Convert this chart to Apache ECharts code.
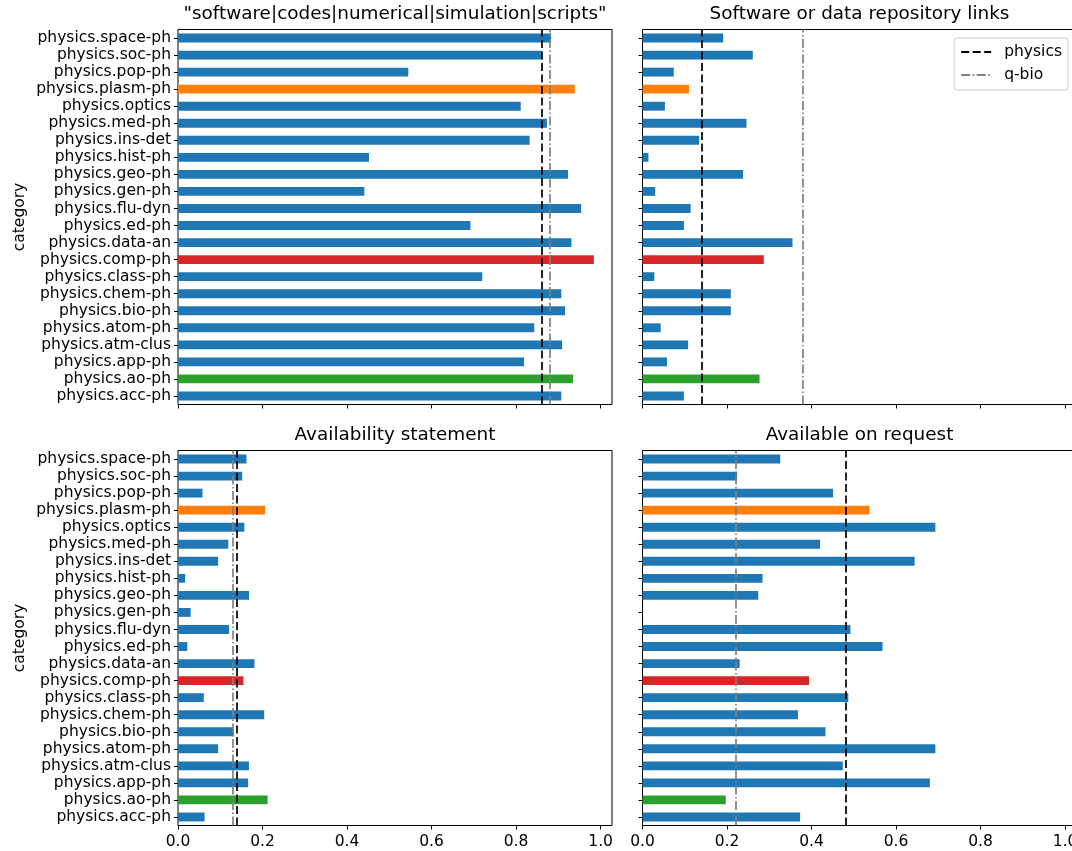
<!DOCTYPE html>
<html>
<head>
<meta charset="utf-8">
<script src="https://cdn.jsdelivr.net/npm/echarts@6/dist/echarts.min.js"></script>
<style>html,body{margin:0;padding:0;background:#fff}#c{width:1072px;height:851px}</style>
</head>
<body>
<div id="c"></div>
<script>
// categories bottom -> top
const categories = ["physics.acc-ph","physics.ao-ph","physics.app-ph","physics.atm-clus","physics.atom-ph","physics.bio-ph","physics.chem-ph","physics.class-ph","physics.comp-ph","physics.data-an","physics.ed-ph","physics.flu-dyn","physics.gen-ph","physics.geo-ph","physics.hist-ph","physics.ins-det","physics.med-ph","physics.optics","physics.plasm-ph","physics.pop-ph","physics.soc-ph","physics.space-ph"];
const panelTitles = ['"software|codes|numerical|simulation|scripts"', "Software or data repository links", "Availability statement", "Available on request"];
const softwareCodes = [0.907,0.935,0.819,0.909,0.843,0.916,0.907,0.720,0.984,0.931,0.692,0.954,0.441,0.923,0.452,0.832,0.873,0.811,0.939,0.545,0.862,0.883];
const repoLinks     = [0.098,0.277,0.058,0.108,0.043,0.209,0.209,0.028,0.287,0.355,0.098,0.114,0.030,0.238,0.014,0.134,0.246,0.053,0.110,0.074,0.261,0.191];
const availStatement= [0.063,0.212,0.166,0.168,0.095,0.132,0.204,0.061,0.155,0.181,0.022,0.121,0.030,0.168,0.017,0.095,0.119,0.157,0.206,0.058,0.152,0.162];
const onRequest     = [0.373,0.197,0.680,0.474,0.693,0.433,0.368,0.487,0.394,0.230,0.568,0.492,0.000,0.274,0.284,0.644,0.420,0.693,0.537,0.451,0.224,0.326];
const refPhysics = [0.862, 0.142, 0.137, 0.485];
const refQbio    = [0.879, 0.378, 0.133, 0.219];
const xTicks = [0, 0.2, 0.4, 0.6, 0.8, 1.0];
const xMax = 1.027;

const panelValues = [softwareCodes, repoLinks, availStatement, onRequest];
const highlight = {"physics.plasm-ph":"#ff7f0e","physics.comp-ph":"#d62728","physics.ao-ph":"#2ca02c"};
const baseColor = "#1f77b4";
const FONT = "DejaVu Sans";
const FS = 15.5;

const gridPos = [
  {left:178, top:29.5}, {left:642.5, top:29.5},
  {left:178, top:450.5}, {left:642.5, top:450.5}
];
const grids = gridPos.map(p => ({left:p.left, top:p.top, width:434, height:375, show:true, borderColor:'#000', borderWidth:1, backgroundColor:'transparent', containLabel:false, outerBoundsMode:'none'}));

const physStyle = {color:'#000', width:1.7, type:[8,3.5]};
const qbioStyle = {color:'#808080', width:1.7, type:[9,2.5,1.5,2.5]};

const xAxes = [], yAxes = [], series = [], titles = [];
for (let i = 0; i < 4; i++) {
  const bottomRow = i >= 2, leftCol = (i % 2 === 0);
  xAxes.push({
    type:'value', gridIndex:i, min:0, max:xMax,
    splitLine:{show:false}, axisLine:{show:false},
    axisTick:{show:true, length:4, lineStyle:{color:'#000'}, customValues:xTicks},
    axisLabel:{show:bottomRow, customValues:xTicks, formatter:v=>v.toFixed(1), fontFamily:FONT, fontSize:FS, color:'#000', margin:8, hideOverlap:false}
  });
  yAxes.push({
    type:'category', gridIndex:i, data:categories,
    axisLine:{show:false},
    axisTick:{show:true, alignWithLabel:true, length:4, lineStyle:{color:'#000'}},
    axisLabel:{show:leftCol, fontFamily:FONT, fontSize:FS, color:'#000', margin:7, interval:0},
    name: leftCol ? 'category' : '', nameLocation:'middle', nameRotate:90, nameGap:150,
    nameTextStyle:{fontFamily:FONT, fontSize:FS, color:'#000'}
  });
  const vals = panelValues[i];
  series.push({
    type:'bar', name:'bars'+i, xAxisIndex:i, yAxisIndex:i, barWidth:'52%',
    data: categories.map((c, k) => ({value: vals[k], itemStyle:{color: highlight[c] || baseColor}})),
    silent:true
  });
  series.push({
    type:'line', name:'physics', xAxisIndex:i, yAxisIndex:i, data:[], symbol:'none',
    lineStyle:physStyle, itemStyle:{color:'#000', opacity:0},
    markLine:{silent:true, symbol:'none', label:{show:false}, animation:false,
      lineStyle:physStyle, data:[{xAxis:refPhysics[i]}]}
  });
  series.push({
    type:'line', name:'q-bio', xAxisIndex:i, yAxisIndex:i, data:[], symbol:'none',
    lineStyle:qbioStyle, itemStyle:{color:'#808080', opacity:0},
    markLine:{silent:true, symbol:'none', label:{show:false}, animation:false,
      lineStyle:qbioStyle, data:[{xAxis:refQbio[i]}]}
  });
  titles.push({
    text: panelTitles[i], left: gridPos[i].left + 217 - 5, top: bottomRow ? 421 : 0, textAlign:'center',
    textStyle:{fontFamily:FONT, fontSize:18.4, fontWeight:'normal', color:'#000'}
  });
}

const chart = echarts.init(document.getElementById('c'), null, {renderer:'canvas'});
chart.setOption({
  animation:false,
  backgroundColor:'#fff',
  title: titles,
  grid: grids,
  xAxis: xAxes,
  yAxis: yAxes,
  legend:{
    data:['physics','q-bio'], orient:'vertical', right:4, top:38,
    itemWidth:30, itemHeight:14, itemGap:7, padding:[6,6,7,6],
    itemStyle:{opacity:0, borderWidth:0},
    borderColor:'#cccccc', borderWidth:1, borderRadius:3, backgroundColor:'rgba(255,255,255,0.85)',
    textStyle:{fontFamily:FONT, fontSize:FS, color:'#000', padding:[0,0,0,8]}, selectedMode:false
  },
  series: series
});
</script>
</body>
</html>
